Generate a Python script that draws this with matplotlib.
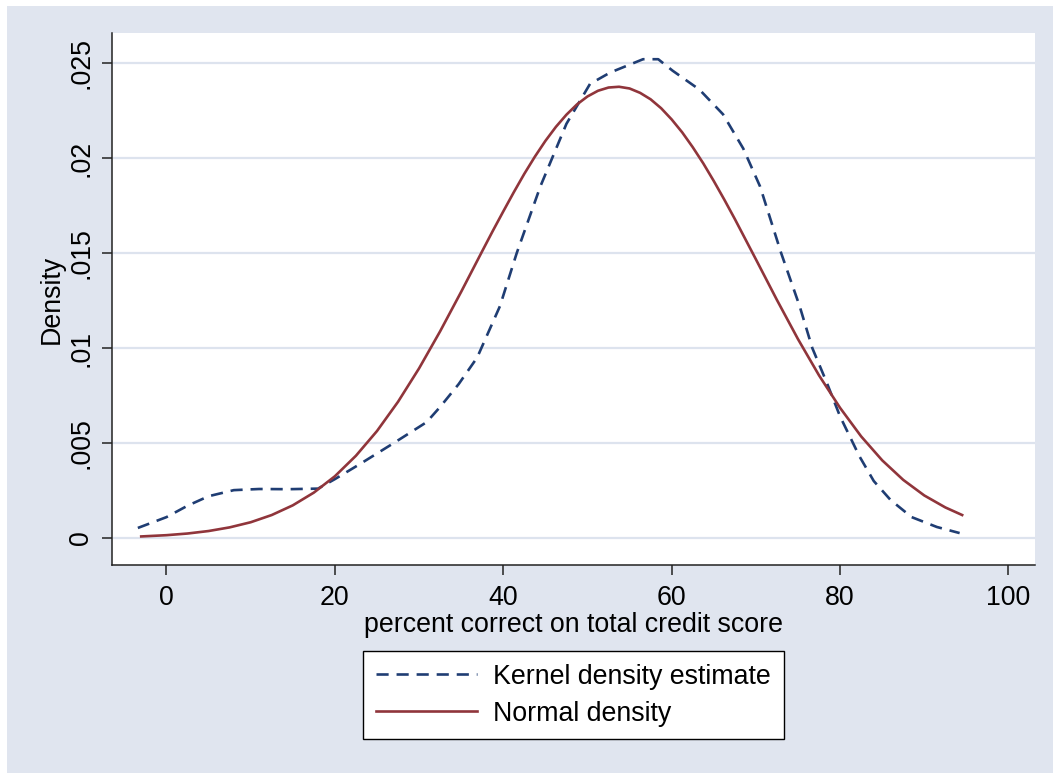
import matplotlib
matplotlib.use("Agg")
import matplotlib.pyplot as plt
from matplotlib.patches import Rectangle

plt.rcParams['font.family'] = ['Liberation Sans', 'DejaVu Sans']

# Kernel density estimate
kde_x = [-3.4, 0.0, 2.5, 5.0, 8.0, 11.0, 14.5, 18.0, 20.0, 23.0, 27.0, 30.9,
         32.5, 34.7, 36.9, 39.6, 41.6, 44.4, 47.5, 50.3, 52.7, 56.6, 58.4,
         60.1, 63.3, 66.1, 68.5, 70.5, 73.0, 75.2, 76.7, 78.4, 80.0, 82.3,
         84.0, 86.0, 88.5, 91.5, 94.2]
kde_y = [0.00053, 0.0011, 0.0017, 0.0022, 0.00252, 0.00258, 0.00257, 0.0026,
         0.0031, 0.0039, 0.0050, 0.0061, 0.0069, 0.0081, 0.0095, 0.0122,
         0.0150, 0.0185, 0.0218, 0.0239, 0.0245, 0.0252, 0.0252, 0.0246,
         0.0236, 0.0223, 0.0205, 0.0185, 0.0150, 0.0122, 0.0100, 0.0082,
         0.0064, 0.0043, 0.0030, 0.0020, 0.0011, 0.00058, 0.00026]

# Normal density
norm_x = [-3.0, 0.0, 2.5, 5.0, 7.5, 10.0, 12.5, 15.0, 17.5, 20.0, 22.5, 25.0,
          27.5, 30.0, 32.5, 35.0, 37.5, 38.75, 40.0, 41.25, 42.5, 43.75, 45.0,
          46.25, 47.5, 48.75, 50.0, 51.25, 52.5, 53.75, 55.0, 56.25, 57.5,
          58.75, 60.0, 61.25, 62.5, 63.75, 65.0, 66.25, 67.5, 68.75, 70.0,
          72.5, 75.0, 77.5, 80.0, 82.5, 85.0, 87.5, 90.0, 92.5, 94.5]
norm_y = [0.000083, 0.000149, 0.000237, 0.000368, 0.00056, 0.00083, 0.00121,
          0.00172, 0.00239, 0.00325, 0.00433, 0.00563, 0.00717, 0.00893,
          0.01088, 0.01296, 0.01510, 0.01616, 0.01719, 0.01820, 0.01917,
          0.02007, 0.02090, 0.02164, 0.02228, 0.02282, 0.02324, 0.02354,
          0.02371, 0.02375, 0.02366, 0.02343, 0.02309, 0.02262, 0.02203,
          0.02135, 0.02057, 0.01972, 0.01879, 0.01781, 0.01679, 0.01573,
          0.01467, 0.01253, 0.01047, 0.00856, 0.00685, 0.00535, 0.00409,
          0.00306, 0.00224, 0.00161, 0.00121]

xticks = [0, 20, 40, 60, 80, 100]
yticks = [0, 0.005, 0.01, 0.015, 0.02, 0.025]
ytick_labels = ['0', '.005', '.01', '.015', '.02', '.025']

BG = '#E0E5EF'
GRID = '#DDE3EE'
NAVY = '#1F3D73'
MAROON = '#90353B'
FS = 19.3

W, H = 1053, 773
fig = plt.figure(figsize=(W / 100, H / 100), dpi=100, facecolor='white')
fig.patches.append(Rectangle((7 / W, 0), 1 - 7 / W, (H - 6) / H,
                             transform=fig.transFigure, facecolor=BG,
                             edgecolor='none', zorder=-10))

ax = fig.add_axes([112 / W, (H - 565) / H, (1035 - 112) / W, (565 - 33) / H])
ax.set_facecolor('white')

ax.plot(kde_x, kde_y, color=NAVY, lw=1.9, dashes=(4.6, 3.0),
        label='Kernel density estimate', zorder=3)
ax.plot(norm_x, norm_y, color=MAROON, lw=1.9,
        label='Normal density', zorder=3)

ax.set_xlim(-6.47, 103.15)
ax.set_ylim(-0.00142, 0.02658)
ax.set_xticks(xticks)
ax.set_xticklabels([str(t) for t in xticks])
ax.set_yticks(yticks)
ax.set_yticklabels(ytick_labels, rotation=90, va='center')

ax.yaxis.grid(True, color=GRID, lw=1.6, zorder=0)
ax.set_axisbelow(True)

for s in ['top', 'right']:
    ax.spines[s].set_visible(False)
for s in ['left', 'bottom']:
    ax.spines[s].set_color('#222222')
    ax.spines[s].set_linewidth(1.1)

ax.tick_params(axis='both', direction='out', length=7.2, width=1.1,
               color='#222222', labelsize=FS, labelcolor='black')
ax.tick_params(axis='x', pad=7)
ax.tick_params(axis='y', pad=5.5)

ax.set_xlabel('percent correct on total credit score', fontsize=FS, labelpad=1)
ax.set_ylabel('Density', fontsize=FS, labelpad=2.7)

leg = fig.legend(loc='upper center', bbox_to_anchor=(573.5 / W, 1 - 651 / H),
                 fontsize=FS, frameon=True, fancybox=False, framealpha=1,
                 handlelength=3.77, handletextpad=0.6, labelspacing=0.4,
                 borderpad=0.48, borderaxespad=0)
leg.get_frame().set_edgecolor('black')
leg.get_frame().set_linewidth(1.0)
leg.get_frame().set_facecolor('white')

fig.savefig('out.png', dpi=100, facecolor='white')
